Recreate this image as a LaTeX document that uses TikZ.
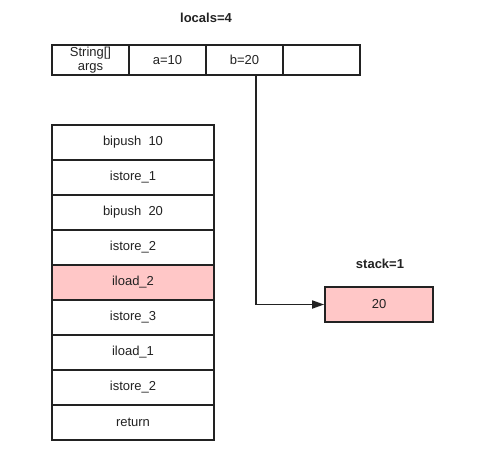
\documentclass[tikz,border=0pt]{standalone}
\usepackage{fontspec}
\setmainfont{Liberation Sans}
\usetikzlibrary{arrows.meta}
\definecolor{slotpink}{HTML}{FFC7C7}
\definecolor{inkline}{HTML}{222222}
\tikzset{
  cell/.style={draw=inkline, line width=1.7pt, inner sep=0pt, align=center,
    text=inkline, font=\fontsize{13}{14.5}\selectfont},
  caption/.style={text=inkline, font=\bfseries\fontsize{13}{14}\selectfont}
}
\begin{document}
\begin{tikzpicture}[x=1pt, y=-1pt,
            declare function={
                CellW = 77;
                CellH = 30;
                OpW = 162;
                OpH = 35;
            }
        ]
            \useasboundingbox (0,0) rectangle (482,458);

            % local variable table
            \node[caption] (locals) at (206, 18) {locals=4};
            \node[cell, minimum width=CellW, minimum height=CellH] (args) at (90.5, 60) {String[]\\args};
            \node[cell, minimum width=CellW, minimum height=CellH] (a) at (167.5, 60) {a=10};
            \node[cell, minimum width=CellW, minimum height=CellH] (b) at (244.5, 60) {b=20};
            \node[cell, minimum width=CellW, minimum height=CellH] (free) at (321.5, 60) {};

            % bytecode
            \foreach \op/\bg [count=\i] in {bipush\ \ 10/white, istore\_1/white, bipush\ \ 20/white,
                    istore\_2/white, iload\_2/slotpink, istore\_3/white, iload\_1/white,
                    istore\_2/white, return/white}
                \node[cell, fill=\bg, minimum width=OpW, minimum height=OpH] (op\i) at (133, {107.5 + OpH*\i}) {\op};

            % operand stack
            \node[caption] (stack) at (380, 264) {stack=1};
            \node[cell, fill=slotpink, minimum width=108, minimum height=35] (top) at (379, 304.5) {20};

            \draw[draw=inkline, line width=1.7pt, -{Triangle[length=12pt, width=8pt]}]
                ([xshift=11.5pt]b.south) |- (top.west);
        \end{tikzpicture}
\end{document}
